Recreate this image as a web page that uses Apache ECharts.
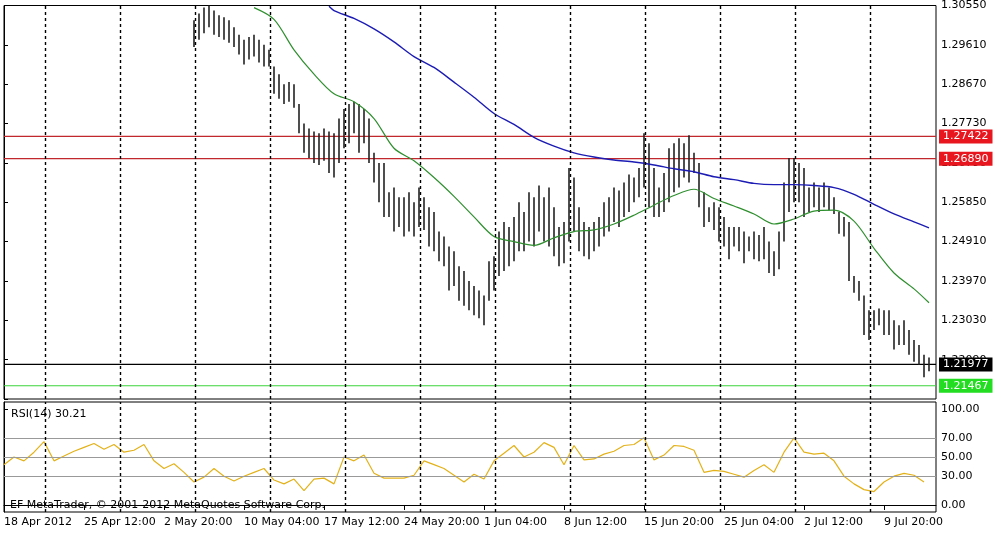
<!DOCTYPE html>
<html>
<head>
<meta charset="utf-8">
<script src="https://cdn.jsdelivr.net/npm/echarts@6/dist/echarts.min.js"></script>
<style>
  html, body { margin: 0; padding: 0; background: #fff; }
  #chart { width: 1001px; height: 538px; }
</style>
</head>
<body>
<div id="chart"></div>
<script>
// first price bar sits at axis position 38 (one slot per bar)
const firstBar = 38;

const highs = [
    1.3020, 1.3036, 1.3050, 1.3055, 1.3043, 1.3032, 1.3027, 1.3020, 1.3003, 1.2985,
    1.2973, 1.2980, 1.2985, 1.2973, 1.2961, 1.2949, 1.2909, 1.2891, 1.2867, 1.2872,
    1.2867, 1.2820, 1.2773, 1.2761, 1.2754, 1.2750, 1.2761, 1.2754, 1.2750, 1.2785,
    1.2808, 1.2820, 1.2825, 1.2820, 1.2808, 1.2785, 1.2703, 1.2679, 1.2679, 1.2609,
    1.2620, 1.2597, 1.2597, 1.2609, 1.2585, 1.2620, 1.2597, 1.2573, 1.2562, 1.2515,
    1.2503, 1.2479, 1.2468, 1.2432, 1.2421, 1.2397, 1.2385, 1.2374, 1.2362, 1.2444,
    1.2456, 1.2515, 1.2538, 1.2526, 1.2550, 1.2585, 1.2562, 1.2609, 1.2597, 1.2625,
    1.2597, 1.2620, 1.2573, 1.2526, 1.2538, 1.2667, 1.2644, 1.2573, 1.2538, 1.2526,
    1.2538, 1.2550, 1.2585, 1.2597, 1.2620, 1.2613, 1.2632, 1.2651, 1.2644, 1.2667,
    1.2750, 1.2726, 1.2667, 1.2620, 1.2655, 1.2714, 1.2726, 1.2738, 1.2726, 1.2745,
    1.2703, 1.2679, 1.2609, 1.2573, 1.2585, 1.2573, 1.2550, 1.2526, 1.2526, 1.2526,
    1.2515, 1.2503, 1.2515, 1.2507, 1.2526, 1.2491, 1.2468, 1.2515, 1.2632, 1.2691,
    1.2691, 1.2679, 1.2667, 1.2620, 1.2632, 1.2620, 1.2632, 1.2620, 1.2597, 1.2562,
    1.2550, 1.2538, 1.2409, 1.2397, 1.2362, 1.2327, 1.2327, 1.2331, 1.2327, 1.2327,
    1.2303, 1.2291, 1.2303, 1.2280, 1.2256, 1.2244, 1.2221, 1.2214
];

const lows = [
    1.2956, 1.2973, 1.2989, 1.3003, 1.2985, 1.2980, 1.2973, 1.2966, 1.2956, 1.2938,
    1.2914, 1.2926, 1.2933, 1.2919, 1.2909, 1.2909, 1.2844, 1.2832, 1.2820, 1.2825,
    1.2811, 1.2750, 1.2703, 1.2691, 1.2679, 1.2674, 1.2684, 1.2655, 1.2644, 1.2679,
    1.2714, 1.2726, 1.2750, 1.2703, 1.2726, 1.2679, 1.2632, 1.2585, 1.2550, 1.2550,
    1.2515, 1.2526, 1.2503, 1.2515, 1.2503, 1.2526, 1.2519, 1.2479, 1.2468, 1.2444,
    1.2432, 1.2374, 1.2385, 1.2350, 1.2338, 1.2327, 1.2315, 1.2308, 1.2291, 1.2350,
    1.2374, 1.2409, 1.2421, 1.2432, 1.2444, 1.2468, 1.2468, 1.2491, 1.2479, 1.2515,
    1.2491, 1.2479, 1.2456, 1.2432, 1.2439, 1.2491, 1.2515, 1.2468, 1.2456, 1.2449,
    1.2468, 1.2479, 1.2503, 1.2515, 1.2538, 1.2526, 1.2550, 1.2562, 1.2585, 1.2597,
    1.2620, 1.2573, 1.2550, 1.2550, 1.2562, 1.2585, 1.2609, 1.2620, 1.2644, 1.2632,
    1.2655, 1.2573, 1.2526, 1.2538, 1.2519, 1.2491, 1.2479, 1.2449, 1.2479, 1.2468,
    1.2439, 1.2468, 1.2449, 1.2444, 1.2449, 1.2416, 1.2409, 1.2425, 1.2491, 1.2562,
    1.2585, 1.2585, 1.2550, 1.2562, 1.2573, 1.2562, 1.2573, 1.2566, 1.2557, 1.2510,
    1.2503, 1.2397, 1.2369, 1.2350, 1.2268, 1.2256, 1.2280, 1.2291, 1.2268, 1.2268,
    1.2233, 1.2244, 1.2244, 1.2221, 1.2204, 1.2197, 1.2167, 1.2181
];

// moving averages, sampled at bar numbers
const maFastBars = [12, 16, 20, 24, 28, 32, 36, 40, 44, 48, 52, 56, 60, 64, 68, 72, 76, 80,
    84, 88, 92, 96, 100, 104, 108, 112, 116, 120, 124, 128, 132, 136, 140, 144, 147];
const maFast = [1.3050, 1.3022, 1.2949, 1.2891, 1.2844, 1.2825, 1.2785, 1.2714, 1.2684,
    1.2644, 1.2599, 1.2550, 1.2503, 1.2491, 1.2482, 1.2500, 1.2515, 1.2519, 1.2533, 1.2554,
    1.2578, 1.2601, 1.2616, 1.2594, 1.2576, 1.2557, 1.2533, 1.2545, 1.2564, 1.2566, 1.2540,
    1.2475, 1.2416, 1.2378, 1.2345];

const maSlowBars = [27, 28, 32, 36, 40, 44, 48, 52, 56, 60, 64, 68, 72, 76, 80, 84, 88, 92,
    96, 100, 104, 108, 112, 116, 120, 124, 128, 132, 136, 140, 144, 147];
const maSlow = [1.3053, 1.3043, 1.3024, 1.2999, 1.2968, 1.2933, 1.2907, 1.2872, 1.2836,
    1.2797, 1.2771, 1.2740, 1.2719, 1.2703, 1.2693, 1.2686, 1.2681, 1.2674, 1.2665, 1.2658,
    1.2646, 1.2639, 1.2630, 1.2627, 1.2627, 1.2625, 1.2620, 1.2604, 1.2580, 1.2557, 1.2538,
    1.2524];

// RSI(14), one point every second slot from the left edge
const rsiValues = [
    42, 50, 46, 55, 66, 46, 51, 56, 60, 64, 58, 63, 55, 57, 63, 46, 38, 43, 34, 24,
    29, 38, 30, 25, 30, 34, 38, 26, 22, 27, 15, 27, 28, 22, 50, 46, 52, 33, 28, 28,
    28, 31, 46, 42, 38, 31, 24, 32, 27, 46, 54, 62, 50, 55, 65, 60, 42, 62, 47, 48,
    53, 56, 62, 63, 70, 47, 52, 62, 61, 57, 34, 36, 35, 32, 29, 36, 42, 34, 55, 70,
    55, 53, 54, 46, 30, 22, 16, 14, 24, 30, 33, 31, 24
];

const timeLabels = ["18 Apr 2012", "25 Apr 12:00", "2 May 20:00", "10 May 04:00",
    "17 May 12:00", "24 May 20:00", "1 Jun 04:00", "8 Jun 12:00", "15 Jun 20:00",
    "25 Jun 04:00", "2 Jul 12:00", "9 Jul 20:00"];

const priceLevels = [1.27422, 1.26890, 1.21977, 1.21467];
const levelLineColors = ["#c0282d", "#c0282d", "#000000", "#3ad33a"];
const levelBoxColors = ["#e8161e", "#e8161e", "#000000", "#22dd22"];

const separators = [8.2, 23.2, 38.2, 53.2, 68.2, 83.2, 98.2, 113.2, 128.2, 143.2, 158.2, 173.2];
const rsiLevels = [30, 50, 70];

const fontFamily = "DejaVu Sans, Verdana, sans-serif";
const xMax = 186.4;

const barData = highs.map((h, i) => [firstBar + i, h, lows[i]]);

const dottedLines = {
    silent: true,
    symbol: "none",
    label: { show: false },
    lineStyle: { color: "#000", type: [3, 3], width: 1.4 },
    data: separators.map((v) => ({ xAxis: v }))
};

const chart = echarts.init(document.getElementById("chart"), null, { renderer: "canvas" });

const levelSeries = priceLevels.map((v, i) => ({
    type: "line", xAxisIndex: 0, yAxisIndex: 0, symbol: "none", z: 2,
    data: [[0, v], [xMax, v]],
    lineStyle: { color: levelLineColors[i], width: 1.2 },
    endLabel: {
        show: true, distance: 3,
        formatter: v.toFixed(5),
        color: "#fff", backgroundColor: levelBoxColors[i],
        fontSize: 11, padding: [2, 4, 1, 4], fontFamily
    }
}));

chart.setOption({
    animation: false,
    textStyle: { fontFamily },
    title: [
        { text: "RSI(14) 30.21", left: 6, top: 404, textStyle: { fontSize: 11, fontWeight: "normal", color: "#000", fontFamily } },
        { text: "EF MetaTrader, © 2001-2012 MetaQuotes Software Corp.", left: 5, top: 495, textStyle: { fontSize: 11, fontWeight: "normal", color: "#000", fontFamily } }
    ],
    grid: [
        { left: 4, right: 65, top: 0, height: 399, show: true, borderColor: "#000", borderWidth: 1 },
        { left: 4, right: 65, top: 402, height: 110, show: true, borderColor: "#000", borderWidth: 1 }
    ],
    xAxis: [
        { type: "value", gridIndex: 0, min: 0, max: xMax, show: false },
        {
            type: "value", gridIndex: 1, min: 0, max: xMax, interval: 16,
            axisLine: { show: true, lineStyle: { color: "#000" } },
            axisTick: { show: true, length: 5, lineStyle: { color: "#000" } },
            splitLine: { show: false },
            axisLabel: {
                color: "#000", fontSize: 11, align: "left", margin: 5, showMaxLabel: false,
                formatter: (v) => timeLabels[Math.round(v / 16)] ?? ""
            }
        }
    ],
    yAxis: [
        {
            type: "value", gridIndex: 0, position: "right", min: 1.2115, max: 1.3055, interval: 0.0094,
            axisLine: { show: true, lineStyle: { color: "#000" } },
            axisTick: { show: true, length: 4, lineStyle: { color: "#000" } },
            splitLine: { show: false },
            axisLabel: {
                color: "#000", fontSize: 11, margin: 5,
                formatter: (v) => (v < 1.212 ? "" : v.toFixed(5))
            }
        },
        {
            type: "value", gridIndex: 1, position: "right", min: -7.3, max: 107.3,
            axisLine: { show: true, lineStyle: { color: "#000" } },
            axisTick: { show: true, length: 4, customValues: [0, 30, 50, 70, 100], lineStyle: { color: "#000" } },
            splitLine: { show: false },
            axisLabel: {
                color: "#000", fontSize: 11, margin: 5, customValues: [0, 30, 50, 70, 100],
                formatter: (v) => v.toFixed(2)
            }
        }
    ],
    series: [
        {
            type: "custom",
            xAxisIndex: 0, yAxisIndex: 0,
            data: barData,
            encode: { x: 0, y: [1, 2] },
            renderItem(params, api) {
                const top = api.coord([api.value(0), api.value(1)]);
                const bottom = api.coord([api.value(0), api.value(2)]);
                return {
                    type: "line",
                    shape: { x1: top[0], y1: top[1], x2: bottom[0], y2: bottom[1] },
                    style: { stroke: "#222", lineWidth: 1.6 }
                };
            },
            markLine: dottedLines,
            z: 3
        },
        {
            type: "line", xAxisIndex: 0, yAxisIndex: 0, symbol: "none",
            data: maFastBars.map((b, i) => [firstBar + b, maFast[i]]),
            smooth: 0.3,
            lineStyle: { color: "#2f8f2f", width: 1.2 }, z: 4
        },
        {
            type: "line", xAxisIndex: 0, yAxisIndex: 0, symbol: "none",
            data: maSlowBars.map((b, i) => [firstBar + b, maSlow[i]]),
            smooth: 0.3,
            lineStyle: { color: "#1c1cb4", width: 1.4 }, z: 4
        },
        ...levelSeries,
        {
            type: "line", xAxisIndex: 1, yAxisIndex: 1, symbol: "none",
            data: rsiValues.map((v, k) => [2 * k, v]),
            lineStyle: { color: "#e3b21a", width: 1.2 },
            markLine: {
                silent: true, symbol: "none", label: { show: false },
                data: rsiLevels.map((v) => ({ yAxis: v, lineStyle: { color: "#999", type: "solid", width: 1.2 } }))
            },
            z: 4
        },
        {
            type: "line", xAxisIndex: 1, yAxisIndex: 1, data: [],
            markLine: dottedLines
        }
    ]
});
</script>
</body>
</html>
